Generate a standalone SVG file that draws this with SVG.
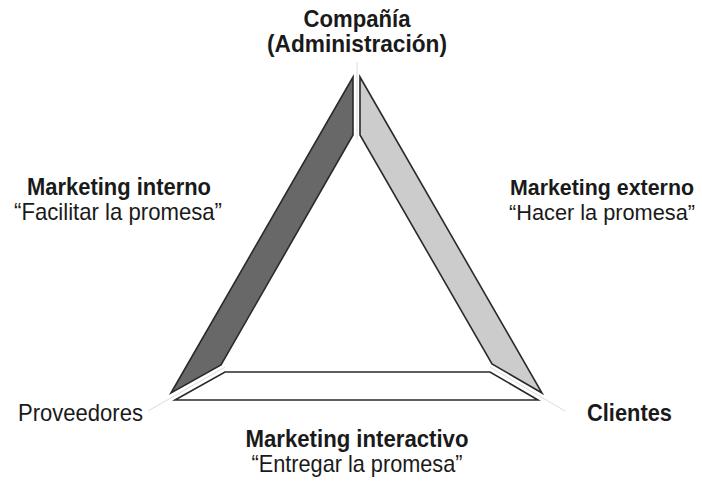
<svg xmlns="http://www.w3.org/2000/svg" width="702" height="481" viewBox="0 0 702 481">
  <style>
    text { font-family: "Liberation Sans", Arial, sans-serif; font-size: 24px; fill: #1a1a1a; }
    .b { font-weight: bold; }
    .r { font-size: 22px; }
    .bar { stroke: #2a2a2a; stroke-width: 1.6; stroke-linejoin: miter; }
    .axis { stroke: #dcdcdc; stroke-width: 1; fill: none; }
  </style>
  <rect width="702" height="481" fill="#ffffff"/>
  <g id="connectors">
    <line class="axis" x1="357" y1="62" x2="357" y2="140"/>
    <line class="axis" x1="148" y1="411" x2="225" y2="367"/>
    <line class="axis" x1="565" y1="411" x2="490" y2="367"/>
  </g>
  <g id="bar-interno">
    <polygon class="bar" fill="#686868" points="353,77 353,135 221,365 171,393"/>
  </g>
  <g id="bar-externo">
    <polygon class="bar" fill="#cccccc" points="360,77 542,393 492,364 360,135"/>
  </g>
  <g id="bar-interactivo">
    <polygon class="bar" fill="#ffffff" points="175,400 538,400 490,372 225,372"/>
  </g>
  <g id="node-compania">
    <text class="b" x="357" y="27" text-anchor="middle" textLength="107" lengthAdjust="spacingAndGlyphs">Compañía</text>
    <text class="b" x="357" y="52" text-anchor="middle" textLength="180" lengthAdjust="spacingAndGlyphs">(Administración)</text>
  </g>
  <g id="node-interno">
    <text class="b" x="119" y="195" text-anchor="middle" textLength="184" lengthAdjust="spacingAndGlyphs">Marketing interno</text>
    <text x="118" y="220" text-anchor="middle" textLength="208" lengthAdjust="spacingAndGlyphs">“Facilitar la promesa”</text>
  </g>
  <g id="node-externo">
    <text class="b r" x="602" y="195" text-anchor="middle" textLength="184" lengthAdjust="spacingAndGlyphs">Marketing externo</text>
    <text class="r" x="602" y="220" text-anchor="middle" textLength="186" lengthAdjust="spacingAndGlyphs">“Hacer la promesa”</text>
  </g>
  <g id="node-proveedores">
    <text x="18" y="421" textLength="125" lengthAdjust="spacingAndGlyphs">Proveedores</text>
  </g>
  <g id="node-clientes">
    <text class="b" x="587" y="421" textLength="85" lengthAdjust="spacingAndGlyphs">Clientes</text>
  </g>
  <g id="node-interactivo">
    <text class="b" x="357" y="447" text-anchor="middle" textLength="223" lengthAdjust="spacingAndGlyphs">Marketing interactivo</text>
    <text x="357" y="472" text-anchor="middle" textLength="211" lengthAdjust="spacingAndGlyphs">“Entregar la promesa”</text>
  </g>
</svg>
